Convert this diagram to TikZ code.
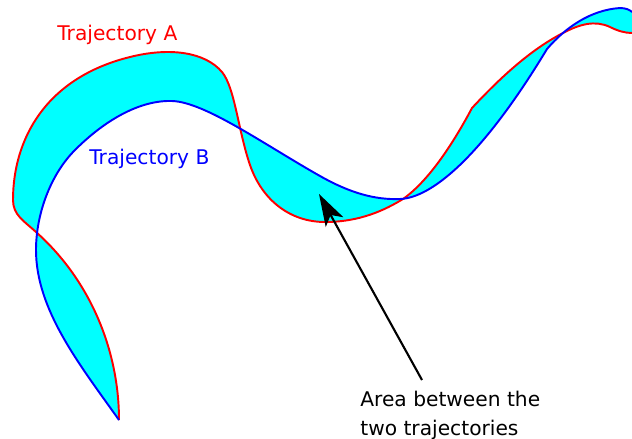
\documentclass[tikz,border=0pt]{standalone}
\usepackage{fontspec}
\setmainfont{DejaVu Sans}
\usetikzlibrary{positioning,calc,arrows.meta}
\definecolor{aqua}{RGB}{0,255,255}

\begin{document}
\begin{tikzpicture}[x=0.02cm,y=-0.02cm,
	trajA/.style={draw=red,line width=1.1pt},
	trajB/.style={draw=blue,line width=1.1pt},
	lbl/.style={inner sep=0pt,font=\fontsize{11.5}{13.7}\selectfont}]
		\useasboundingbox (0,0) rectangle (632,439);
		% area between the two curves
		\fill[aqua] (119,420) .. controls (119,350) and (90,280) .. (36,232)
			.. controls (24,221) and (13,215) .. (13,200)
			.. controls (13,140) and (45,78) .. (130,57)
			.. controls (170,47) and (205,52) .. (222,72)
			.. controls (235,88) and (238,130) .. (250,165)
			.. controls (262,200) and (290,222) .. (325,222)
			.. controls (360,222) and (385,210) .. (403,199)
			.. controls (430,180) and (455,140) .. (472,108)
			.. controls (500,78) and (530,50) .. (563,33)
			.. controls (580,24) and (595,20) .. (610,27)
			.. controls (618,31) and (625,33) .. (632,33)
			-- (632,12) .. controls (630,10) and (626,8) .. (620,8)
			.. controls (590,10) and (565,28) .. (547,49)
			.. controls (480,160) and (430,198) .. (400,199)
			.. controls (375,200) and (350,193) .. (320,176)
			.. controls (265,145) and (205,102) .. (172,101)
			.. controls (140,100) and (105,120) .. (75,150)
			.. controls (50,175) and (36,215) .. (36,250)
			.. controls (36,310) and (80,365) .. (119,420) -- cycle;
		% trajectory A
		\draw[trajA] (119,420) .. controls (119,350) and (90,280) .. (36,232)
			.. controls (24,221) and (13,215) .. (13,200)
			.. controls (13,140) and (45,78) .. (130,57)
			.. controls (170,47) and (205,52) .. (222,72)
			.. controls (235,88) and (238,130) .. (250,165)
			.. controls (262,200) and (290,222) .. (325,222)
			.. controls (360,222) and (385,210) .. (403,199)
			.. controls (430,180) and (455,140) .. (472,108)
			.. controls (500,78) and (530,50) .. (563,33)
			.. controls (580,24) and (595,20) .. (610,27)
			.. controls (618,31) and (625,33) .. (632,33);
		% trajectory B
		\draw[trajB] (119,420) .. controls (80,365) and (36,310) .. (36,250)
			.. controls (36,215) and (50,175) .. (75,150)
			.. controls (105,120) and (140,100) .. (172,101)
			.. controls (205,102) and (265,145) .. (320,176)
			.. controls (350,193) and (375,200) .. (400,199)
			.. controls (430,198) and (480,160) .. (547,49)
			.. controls (565,28) and (590,10) .. (620,8)
			.. controls (626,8) and (630,10) .. (632,12);
		
		\node[lbl,red,anchor=base west] (labA) at (57,41) {Trajectory A};
		\node[lbl,blue,anchor=base west] (labB) at (89,164) {Trajectory B};
		\node[lbl,anchor=north west,align=left] (area) at (360,391) {Area between the\\[2.5pt]two trajectories};
		
		\coordinate (tail) at (422,380);
		\coordinate (tip) at (319,194);
		\draw[line width=1.2pt,-{Stealth[length=0.64cm,width=0.4cm,inset=0.16cm]}] (tail) -- (tip);
	\end{tikzpicture}
\end{document}
